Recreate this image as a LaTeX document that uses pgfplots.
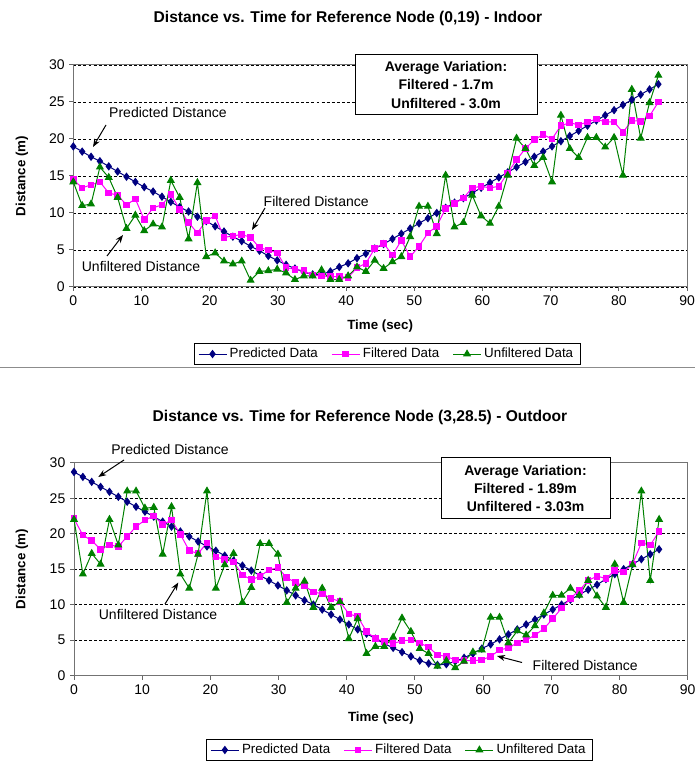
\documentclass[border=0pt]{standalone}
\usepackage{fontspec}
\setmainfont{Liberation Sans}
\usepackage{pgfplots}
\usepackage{pgfplotstable}
\pgfplotsset{compat=1.18}
\usetikzlibrary{arrows.meta}

\definecolor{prednavy}{RGB}{0,0,128}
\definecolor{filtmag}{RGB}{255,0,255}
\definecolor{unfgreen}{RGB}{0,128,0}

% indoor run, node (0,19)
\pgfplotstableread{
t pred filt unf
0 19.0 14.5 14.2
1.3 18.3 13.4 11.0
2.6 17.6 13.8 11.2
3.9 17.0 14.2 16.2
5.2 16.3 12.7 14.8
6.5 15.6 12.4 12.1
7.8 14.9 11.1 7.9
9.1 14.2 11.9 9.7
10.4 13.5 9.1 7.6
11.7 12.9 10.7 8.5
13.0 12.2 11.1 8.1
14.3 11.5 12.5 14.4
15.6 10.8 10.5 12.1
16.9 10.2 8.7 6.5
18.2 9.5 7.3 14.1
19.5 8.9 9.0 4.1
20.8 8.2 9.6 4.6
22.1 7.5 6.7 3.5
23.4 6.8 6.9 3.1
24.7 6.2 7.1 3.5
26.0 5.5 6.7 0.9
27.3 4.9 5.3 2.1
28.6 4.2 5.0 2.2
29.9 3.6 4.6 2.4
31.2 3.0 2.6 1.9
32.5 2.5 2.4 1.0
33.8 2.0 2.2 1.5
35.1 1.7 1.6 1.5
36.4 1.7 1.5 2.3
37.7 2.1 1.4 1.0
39.0 2.7 1.4 1.0
40.3 3.2 1.3 1.5
41.6 3.9 2.6 2.7
42.9 4.5 3.2 2.1
44.2 5.2 5.2 3.6
45.5 5.8 5.9 2.5
46.8 6.5 4.3 3.4
48.1 7.2 6.3 4.1
49.4 7.9 4.1 6.8
50.7 8.6 5.5 10.9
52.0 9.3 7.3 10.9
53.3 10.0 8.2 7.2
54.6 10.7 10.6 15.1
55.9 11.4 11.3 8.1
57.2 12.0 12.0 8.7
58.5 12.7 13.4 12.4
59.8 13.4 13.6 9.6
61.1 14.1 13.4 8.6
62.4 14.8 13.6 10.9
63.7 15.5 15.4 15.1
65.0 16.2 17.2 20.1
66.3 16.9 18.7 18.7
67.6 17.6 19.9 16.4
68.9 18.3 20.6 17.5
70.2 19.0 20.0 14.2
71.5 19.7 21.8 23.2
72.8 20.4 22.2 18.7
74.1 21.1 21.9 17.5
75.4 21.8 22.3 20.2
76.7 22.5 22.7 20.2
78.0 23.2 22.3 18.9
79.3 23.9 22.3 20.2
80.6 24.6 20.9 15.1
81.9 25.3 22.5 26.7
83.2 26.0 22.4 20.1
84.5 26.7 23.1 24.9
85.8 27.4 25.0 28.6
}\indoortab

% outdoor run, node (3,28.5)
\pgfplotstableread{
t pred filt unf
0 28.7 22.1 22.0
1.3 28.0 19.8 14.3
2.6 27.3 19.0 17.2
3.9 26.6 17.8 15.7
5.2 25.9 18.4 22.0
6.5 25.2 18.2 18.4
7.8 24.5 19.6 26.0
9.1 23.8 21.0 26.0
10.4 23.1 21.9 23.6
11.7 22.4 22.5 23.7
13.0 21.7 21.3 17.1
14.3 21.0 21.9 23.8
15.6 20.3 19.9 14.3
16.9 19.6 17.6 12.3
18.2 18.9 17.2 17.1
19.5 18.2 18.7 26.0
20.8 17.6 16.7 12.3
22.1 16.9 16.4 15.6
23.4 16.2 16.0 17.2
24.7 15.5 14.2 10.3
26.0 14.8 13.5 12.4
27.3 14.1 14.0 18.6
28.6 13.4 14.9 18.6
29.9 12.7 15.2 17.1
31.2 12.0 13.8 10.3
32.5 11.3 13.1 12.3
33.8 10.6 12.6 13.3
35.1 10.0 11.8 9.6
36.4 9.3 11.5 12.3
37.7 8.6 10.9 9.6
39.0 7.9 10.4 10.4
40.3 7.2 8.7 5.2
41.6 6.5 8.3 8.0
42.9 5.9 6.2 3.1
44.2 5.2 5.2 4.1
45.5 4.5 4.8 4.1
46.8 3.9 4.5 5.4
48.1 3.3 4.9 8.1
49.4 2.7 5.0 6.2
50.7 2.1 4.6 3.8
52.0 1.7 4.0 3.1
53.3 1.5 2.9 1.3
54.6 1.6 2.7 2.1
55.9 2.0 2.2 1.1
57.2 2.5 2.1 2.0
58.5 3.1 2.1 3.3
59.8 3.8 2.2 3.6
61.1 4.4 2.7 8.2
62.4 5.1 3.6 8.2
63.7 5.8 3.9 4.6
65.0 6.5 4.6 6.3
66.3 7.2 5.0 5.7
67.6 7.9 5.7 7.0
68.9 8.6 6.6 8.8
70.2 9.3 8.0 11.3
71.5 10.0 9.5 11.3
72.8 10.7 10.9 12.3
74.1 11.4 12.0 11.3
75.4 12.1 13.4 13.4
76.7 12.8 14.0 11.2
78.0 13.6 13.7 9.6
79.3 14.3 14.8 15.7
80.6 15.0 14.6 10.3
81.9 15.7 15.7 15.6
83.2 16.4 18.7 26.0
84.5 17.1 18.4 13.4
85.8 17.8 20.3 22.0
}\outdoortab

\pgfplotsset{
  distchart/.style={
    scale only axis,
    width=460.3pt,
    xmin=0, xmax=90, ymin=0, ymax=30,
    xtick={0,10,...,90}, ytick={0,5,...,30},
    xtick pos=left, ytick pos=left,
    tick align=outside,
    major tick length=3pt,
    axis line style={black!55, line width=0.75pt},
    tick style={black!60, line width=0.75pt},
    ymajorgrids,
    major grid style={black, line width=0.6pt, dash pattern=on 2.2pt off 1.6pt},
    tick label style={font=\fontsize{10.5}{12}\selectfont},
    /pgf/number format/assume math mode=true,
    label style={font=\bfseries\fontsize{10}{12}\selectfont},
    xlabel={Time (sec)}, ylabel={Distance (m)},
    legend columns=3,
    legend cell align=left,
    legend image code/.code={
      \draw[mark repeat=2, mark phase=2] plot coordinates {(0pt,0pt) (10.5pt,0pt) (21pt,0pt)};},
    legend style={draw=black, thin, font=\fontsize{10}{12}\selectfont,
      inner xsep=3pt, inner ysep=1.5pt,
      /tikz/every even column/.append style={column sep=8pt}},
  },
  predline/.style={prednavy, line width=0.75pt, mark=diamond*, mark size=2.6pt,
    mark options={solid, fill=prednavy}},
  filtline/.style={filtmag, line width=0.75pt, mark=square*, mark size=2.1pt,
    mark options={solid, fill=filtmag}},
  unfline/.style={unfgreen, line width=0.75pt, mark=triangle*, mark size=2.8pt,
    mark options={solid, fill=unfgreen}},
}

\begin{document}
\begin{tikzpicture}[x=0.75pt, y=0.75pt]
\path[use as bounding box] (0,0) rectangle (695,763);

% ---- top chart: indoor ----
\node[font=\bfseries\fontsize{11.7}{14}\selectfont] at (348,745) {Distance vs. Time for Reference Node (0,19) - Indoor};
\begin{axis}[distchart, at={(54.98pt,357pt)}, anchor=south west, height=166.5pt,
    xlabel style={at={(axis description cs:0.5,-0.176)}, anchor=center},
    ylabel style={at={(axis description cs:-0.0836,0.5)}, anchor=center},
    legend style={at={(axis description cs:0.511,-0.302)}, anchor=center}]
  \addplot[predline] table[x=t, y=pred] {\indoortab};
  \addplot[filtline] table[x=t, y=filt] {\indoortab};
  \addplot[unfline] table[x=t, y=unf] {\indoortab};
  \legend{Predicted Data, Filtered Data, Unfiltered Data}
\end{axis}
\draw[black, fill=white, line width=0.75pt] (355,708) rectangle (537,648);
\node[align=center, font=\bfseries\fontsize{10.5}{13.7}\selectfont] at (446,678)
  {Average Variation:\\Filtered - 1.7m\\Unfiltered - 3.0m};
\node[font=\fontsize{10.5}{12}\selectfont] at (168,650) {Predicted Distance};
\draw[-{Stealth[length=6pt,width=4.5pt]}, line width=0.75pt] (106,638) -- (93,616);
\node[font=\fontsize{10.5}{12}\selectfont, anchor=west] at (259,561.3) {Filtered Distance};
\draw[-{Stealth[length=6pt,width=4.5pt]}, line width=0.75pt] (265,555) -- (252,533);
\node[font=\fontsize{10.5}{12}\selectfont] at (141,496.3) {Unfiltered Distance};
\draw[-{Stealth[length=6pt,width=4.5pt]}, line width=0.75pt] (107,507) -- (123,528);

\draw[black!45, line width=0.75pt] (0,395) -- (695,395);

% ---- bottom chart: outdoor ----
\node[font=\bfseries\fontsize{11.7}{14}\selectfont] at (360,346) {Distance vs. Time for Reference Node (3,28.5) - Outdoor};
\begin{axis}[distchart, at={(55.5pt,65.6pt)}, anchor=south west, height=159.6pt,
    xlabel style={at={(axis description cs:0.5,-0.2)}, anchor=center},
    ylabel style={at={(axis description cs:-0.0847,0.5)}, anchor=center},
    legend style={at={(axis description cs:0.53,-0.35)}, anchor=center}]
  \addplot[predline] table[x=t, y=pred] {\outdoortab};
  \addplot[filtline] table[x=t, y=filt] {\outdoortab};
  \addplot[unfline] table[x=t, y=unf] {\outdoortab};
  \legend{Predicted Data, Filtered Data, Unfiltered Data}
\end{axis}
\draw[black, fill=white, line width=0.75pt] (441,305) rectangle (610,244);
\node[align=center, font=\bfseries\fontsize{10.5}{13.7}\selectfont] at (525.5,274.5)
  {Average Variation:\\Filtered - 1.89m\\Unfiltered - 3.03m};
\node[font=\fontsize{10.5}{12}\selectfont] at (170,313) {Predicted Distance};
\draw[-{Stealth[length=6pt,width=4.5pt]}, line width=0.75pt] (124,303) -- (98.3,286);
\node[font=\fontsize{10.5}{12}\selectfont] at (158,149) {Unfiltered Distance};
\draw[-{Stealth[length=6pt,width=4.5pt]}, line width=0.75pt] (165,159) -- (178.3,180.5);
\node[font=\fontsize{10.5}{12}\selectfont, anchor=west] at (528,98) {Filtered Distance};
\draw[-{Stealth[length=6pt,width=4.5pt]}, line width=0.75pt] (522,100.5) -- (497,107);
\end{tikzpicture}
\end{document}
